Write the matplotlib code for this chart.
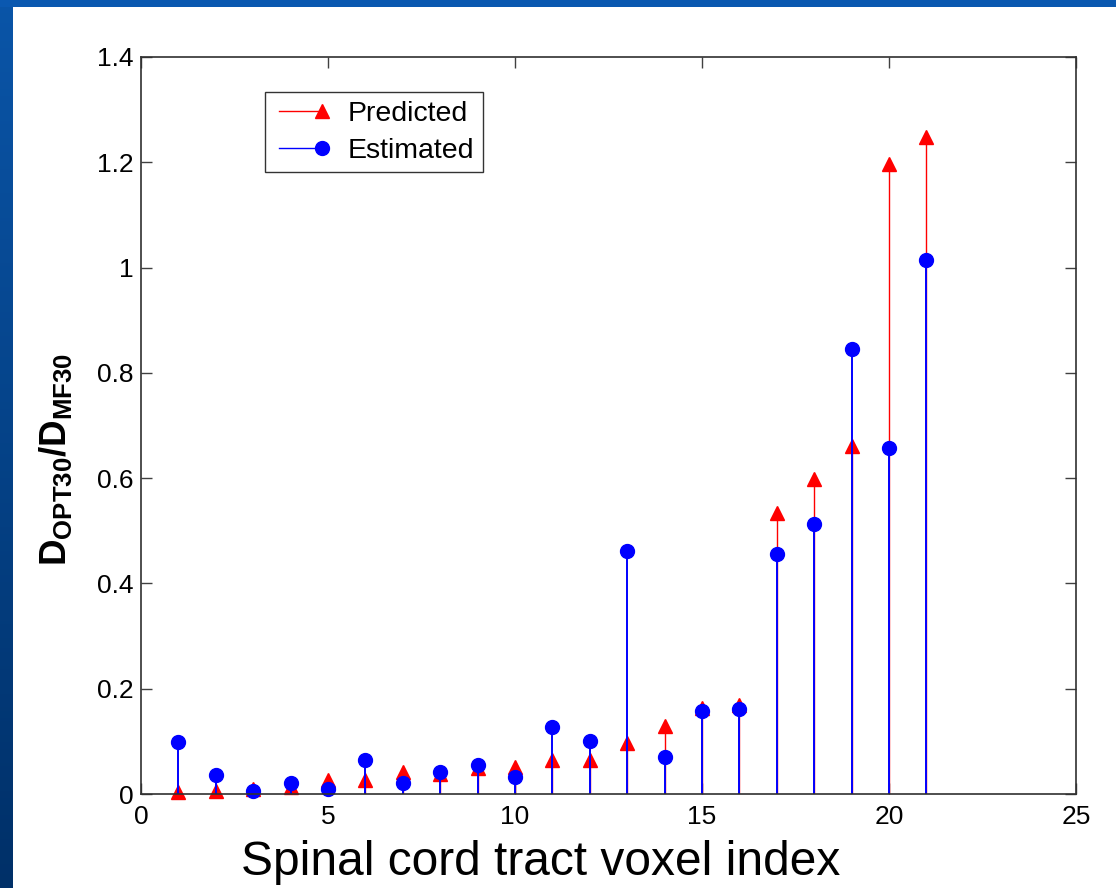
import numpy as np
import matplotlib.pyplot as plt
from matplotlib.colors import LinearSegmentedColormap
from matplotlib.legend_handler import HandlerLine2D
from matplotlib.lines import Line2D

plt.rcParams['font.family'] = ['Liberation Sans', 'DejaVu Sans']
plt.rcParams['mathtext.fontset'] = 'custom'
plt.rcParams['mathtext.rm'] = 'Liberation Sans'
plt.rcParams['mathtext.bf'] = 'Liberation Sans:bold'

voxel = list(range(1, 22))
predicted = [0.004, 0.005, 0.010, 0.014, 0.027, 0.027, 0.041, 0.038, 0.050, 0.052,
             0.065, 0.065, 0.096, 0.129, 0.163, 0.170, 0.534, 0.598, 0.661, 1.197, 1.248]
estimated = [0.098, 0.036, 0.006, 0.020, 0.009, 0.064, 0.020, 0.041, 0.056, 0.033,
             0.128, 0.100, 0.461, 0.071, 0.158, 0.161, 0.456, 0.513, 0.845, 0.657, 1.014]

xticks = [0, 5, 10, 15, 20, 25]
yticks = [0, 0.2, 0.4, 0.6, 0.8, 1.0, 1.2, 1.4]
ytick_labels = ['0', '0.2', '0.4', '0.6', '0.8', '1', '1.2', '1.4']


class StemLegend(HandlerLine2D):
    # matlab-style stem legend: short line with the marker at its right end
    def create_artists(self, legend, orig_handle, xdescent, ydescent,
                       width, height, fontsize, trans):
        y = (height - ydescent) / 2
        x1 = -xdescent + width
        line = Line2D([x1 - 31, x1], [y, y])
        self.update_prop(line, orig_handle, legend)
        line.set_markevery([1])
        line.set_transform(trans)
        return [line]


W, H = 1116, 888
fig = plt.figure(figsize=(W / 100, H / 100), dpi=100)

# slide background strips (left and top)
grad = np.linspace(0, 1, 256).reshape(-1, 1)
bl = fig.add_axes([0, 0, 12 / W, 1])
bl.imshow(grad, aspect='auto', extent=[0, 1, 0, 1],
          cmap=LinearSegmentedColormap.from_list('slide', ['#0a55a8', '#003068']))
bl.axis('off')
bt = fig.add_axes([0, 1 - 7 / H, 1, 7 / H])
bt.set_facecolor('#0a58b0')
bt.set_xticks([]); bt.set_yticks([])
for s in bt.spines.values():
    s.set_visible(False)

ax = fig.add_axes([141 / W, (H - 794) / H, (1076 - 141) / W, (794 - 57) / H])

ml, sl, bsl = ax.stem(voxel, predicted, linefmt='r-', markerfmt='r^', basefmt=' ')
ml.set_markersize(10); ml.set_clip_on(False)
sl.set_linewidth(1.0)
ml2, sl2, bsl2 = ax.stem(voxel, estimated, linefmt='b-', markerfmt='bo', basefmt=' ')
ml2.set_markersize(10); ml2.set_clip_on(False)
sl2.set_linewidth(1.4)

ax.set_xlim(0, 25)
ax.set_ylim(0, 1.4)
ax.set_xticks(xticks)
ax.set_yticks(yticks)
ax.set_yticklabels(ytick_labels)
ax.tick_params(direction='in', length=8, width=1, top=True, right=True,
               labelsize=19, color='#404040')
ax.tick_params(axis='y', pad=5.5)
ax.tick_params(axis='x', pad=8)
for s in ax.spines.values():
    s.set_color('#303030')
    s.set_linewidth(1.2)

fig.text(541 / W, 1 - 875 / H, 'Spinal cord tract voxel index', fontsize=34.5,
         ha='center', va='baseline')
fig.text(55 / W, 1 - 459 / H, r'$\mathbf{D_{OPT30}/D_{MF30}}$', rotation=90,
         fontsize=26.5, ha='center', va='center')

h1 = Line2D([], [], color='r', marker='^', markersize=10, lw=1)
h2 = Line2D([], [], color='b', marker='o', markersize=10, lw=1)
leg = ax.legend([h1, h2], ['Predicted', 'Estimated'], loc='upper left',
                bbox_to_anchor=(265 / W, 1 - 92 / H), bbox_transform=fig.transFigure,
                borderaxespad=0, fancybox=False, fontsize=20.5, handlelength=1.7,
                handletextpad=0.9, labelspacing=0.4, borderpad=0.3,
                handler_map={Line2D: StemLegend()})
leg.get_frame().set_edgecolor('black')
leg.get_frame().set_linewidth(1)

fig.savefig('out.png', dpi=100)
